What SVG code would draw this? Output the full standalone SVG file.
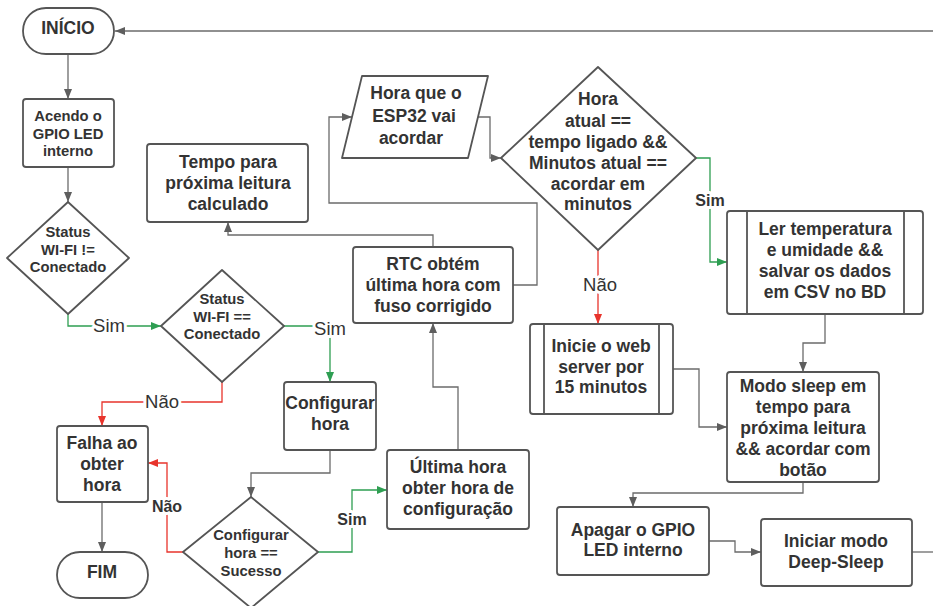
<svg xmlns="http://www.w3.org/2000/svg" width="933" height="606" viewBox="0 0 933 606">
<style>
.s{fill:#fff;stroke:#555;stroke-width:1.8;stroke-linejoin:round}
.t{font-family:"Liberation Sans",Arial,sans-serif;font-weight:bold;fill:#333;text-anchor:middle}
.b{font-size:17.5px}
.m{font-size:14.8px}
.c{fill:none;stroke:#6b6b6b;stroke-width:1.3}
.g{fill:none;stroke:#2e9e52;stroke-width:1.3}
.r{fill:none;stroke:#e8342c;stroke-width:1.3}
.l{font-family:"Liberation Sans",Arial,sans-serif;fill:#333;text-anchor:middle;paint-order:stroke;stroke:#fff;stroke-width:6px;stroke-linejoin:round}
.lr{font-size:18.5px}
.lb{font-size:16px;font-weight:bold}
</style>
<defs>
<marker id="ag" markerUnits="userSpaceOnUse" markerWidth="10" markerHeight="8" refX="10" refY="4" orient="auto"><path d="M0,0 L10,4 L0,8 z" fill="#5e5e5e"/></marker>
<marker id="agr" markerUnits="userSpaceOnUse" markerWidth="10" markerHeight="8" refX="10" refY="4" orient="auto"><path d="M0,0 L10,4 L0,8 z" fill="#2e9e52"/></marker>
<marker id="ar" markerUnits="userSpaceOnUse" markerWidth="10" markerHeight="8" refX="10" refY="4" orient="auto"><path d="M0,0 L10,4 L0,8 z" fill="#e8342c"/></marker>
</defs>
<rect width="933" height="606" fill="#fff"/>
<g id="connectors">
<path class="c" d="M933,31 H115" marker-end="url(#ag)"/>
<path class="c" d="M68,54 V99" marker-end="url(#ag)"/>
<path class="c" d="M68,167 V202" marker-end="url(#ag)"/>
<path class="g" d="M68,313 V326 H161" marker-end="url(#agr)"/>
<path class="g" d="M284,326 H330 V382" marker-end="url(#agr)"/>
<path class="r" d="M222,382 V402 H102 V426" marker-end="url(#ar)"/>
<path class="c" d="M102,502 V552" marker-end="url(#ag)"/>
<path class="c" d="M330,450 V473 H251 V497" marker-end="url(#ag)"/>
<path class="r" d="M183,552 H167 V463 H148" marker-end="url(#ar)"/>
<path class="g" d="M318,552 H352 V490 H387" marker-end="url(#agr)"/>
<path class="c" d="M458,450 V387 H433 V323" marker-end="url(#ag)"/>
<path class="c" d="M433,247 V235 H228 V222" marker-end="url(#ag)"/>
<path class="c" d="M513,285 H537 V203 H329 V117 H352" marker-end="url(#ag)"/>
<path class="c" d="M478,117 H490 V158 H501" marker-end="url(#ag)"/>
<path class="g" d="M696,158 H710 V262 H727" marker-end="url(#agr)"/>
<path class="r" d="M598,250 V324" marker-end="url(#ar)"/>
<path class="c" d="M825,314 V343 H803 V372" marker-end="url(#ag)"/>
<path class="c" d="M673,369 H699 V427 H727" marker-end="url(#ag)"/>
<path class="c" d="M803,482 V493 H633 V507" marker-end="url(#ag)"/>
<path class="c" d="M709,541 H735 V552 H761" marker-end="url(#ag)"/>
<path class="c" d="M912,552 H933"/>
<text class="l lr" x="109" y="332">Sim</text>
<text class="l lr" x="330" y="335">Sim</text>
<text class="l lr" x="162" y="408">Não</text>
<text class="l lb" x="167" y="512">Não</text>
<text class="l lb" x="352" y="525">Sim</text>
<text class="l lb" x="710" y="206">Sim</text>
<text class="l lr" x="600" y="291">Não</text>
</g>
<g id="inicio"><rect class="s" x="23" y="8" width="91" height="46" rx="23"/><text class="t b" x="68" y="34">INÍCIO</text></g>
<g id="acendo"><rect class="s" x="23" y="99" width="91" height="68" rx="3"/><text class="t m"><tspan x="68" y="121">Acendo o</tspan><tspan x="68" y="138.5">GPIO LED</tspan><tspan x="68" y="156">interno</tspan></text></g>
<g id="status1"><path class="s" d="M68,202 L129,258 L68,314 L7,258 Z"/><text class="t m"><tspan x="68" y="237">Status</tspan><tspan x="68" y="254.5">WI-FI !=</tspan><tspan x="68" y="272">Conectado</tspan></text></g>
<g id="status2"><path class="s" d="M222,270 L284,326 L222,382 L161,326 Z"/><text class="t m"><tspan x="222" y="304">Status</tspan><tspan x="222" y="321.5">WI-FI ==</tspan><tspan x="222" y="339">Conectado</tspan></text></g>
<g id="falha"><rect class="s" x="57" y="426" width="91" height="76" rx="3"/><text class="t b"><tspan x="102" y="449">Falha ao</tspan><tspan x="102" y="470">obter</tspan><tspan x="102" y="491">hora</tspan></text></g>
<g id="fim"><rect class="s" x="57" y="552" width="91" height="46" rx="23"/><text class="t b" x="102" y="578">FIM</text></g>
<g id="configurar"><rect class="s" x="284" y="382" width="92" height="68" rx="3"/><text class="t b"><tspan x="330" y="409">Configurar</tspan><tspan x="330" y="430">hora</tspan></text></g>
<g id="sucesso"><path class="s" d="M251,497 L318,552 L251,608 L183,552 Z"/><text class="t m"><tspan x="251" y="540">Configurar</tspan><tspan x="251" y="558">hora ==</tspan><tspan x="251" y="576">Sucesso</tspan></text></g>
<g id="ultima"><rect class="s" x="387" y="450" width="142" height="79" rx="3"/><text class="t b"><tspan x="458" y="473">Última hora</tspan><tspan x="458" y="494">obter hora de</tspan><tspan x="458" y="515">configuração</tspan></text></g>
<g id="rtc"><rect class="s" x="353" y="247" width="160" height="76" rx="3"/><text class="t b"><tspan x="433" y="270">RTC obtém</tspan><tspan x="433" y="291">última hora com</tspan><tspan x="433" y="312">fuso corrigido</tspan></text></g>
<g id="tempo"><rect class="s" x="147" y="144" width="161" height="78" rx="3"/><text class="t b"><tspan x="228" y="168">Tempo para</tspan><tspan x="228" y="189">próxima leitura</tspan><tspan x="228" y="210">calculado</tspan></text></g>
<g id="horaesp"><path class="s" d="M362,76 L488,76 L468,158 L342,158 Z"/><text class="t b"><tspan x="416" y="99">Hora que o</tspan><tspan x="414" y="122">ESP32 vai</tspan><tspan x="411" y="144">acordar</tspan></text></g>
<g id="decisao"><path class="s" d="M598,67 L696,158 L598,250 L501,158 Z"/><text class="t b"><tspan x="598" y="105">Hora</tspan><tspan x="598" y="127">atual ==</tspan><tspan x="598" y="148">tempo ligado &amp;&amp;</tspan><tspan x="598" y="169">Minutos atual ==</tspan><tspan x="598" y="190">acordar em</tspan><tspan x="598" y="210">minutos</tspan></text></g>
<g id="inicie"><rect class="s" x="530" y="324" width="143" height="90" rx="3"/><path class="s" d="M544,324 V414 M659,324 V414"/><text class="t b"><tspan x="601" y="352">Inicie o web</tspan><tspan x="601" y="373">server por</tspan><tspan x="601" y="393">15 minutos</tspan></text></g>
<g id="ler"><rect class="s" x="727" y="211" width="196" height="103" rx="3"/><path class="s" d="M747,211 V314 M904,211 V314"/><text class="t b"><tspan x="825" y="235">Ler temperatura</tspan><tspan x="825" y="256">e umidade &amp;&amp;</tspan><tspan x="825" y="277">salvar os dados</tspan><tspan x="825" y="298">em CSV no BD</tspan></text></g>
<g id="modo"><rect class="s" x="727" y="372" width="152" height="110" rx="3"/><text class="t b"><tspan x="803" y="392">Modo sleep em</tspan><tspan x="803" y="413">tempo para</tspan><tspan x="803" y="434">próxima leitura</tspan><tspan x="803" y="455">&amp;&amp; acordar com</tspan><tspan x="803" y="476">botão</tspan></text></g>
<g id="apagar"><rect class="s" x="557" y="507" width="152" height="68" rx="3"/><text class="t b"><tspan x="633" y="536">Apagar o GPIO</tspan><tspan x="633" y="556">LED interno</tspan></text></g>
<g id="deepsleep"><rect class="s" x="761" y="519" width="151" height="67" rx="3"/><text class="t b"><tspan x="836" y="547">Iniciar modo</tspan><tspan x="836" y="568">Deep-Sleep</tspan></text></g>
</svg>
